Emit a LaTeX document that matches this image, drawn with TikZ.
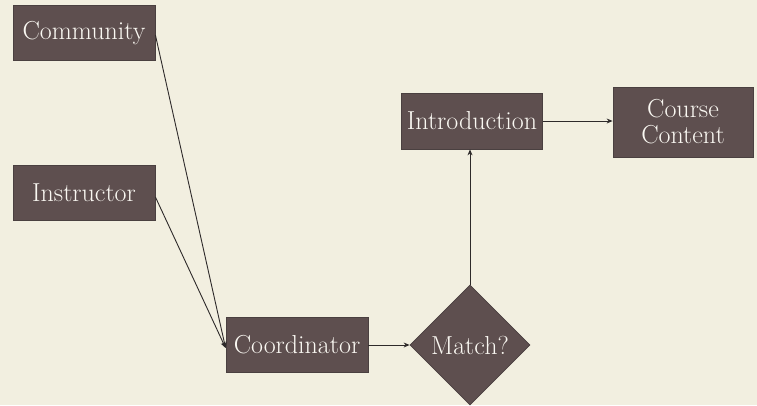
\documentclass[tikz,border=0pt]{standalone}
\usetikzlibrary{shapes.geometric,arrows.meta}
\definecolor{bgc}{HTML}{F2EFE0}
\definecolor{boxc}{HTML}{5E4F4F}
\definecolor{edgec}{HTML}{4A4040}
\definecolor{linec}{HTML}{2E2A2A}
\definecolor{txtc}{HTML}{FAF8F2}
\tikzset{
  box/.style={draw=edgec, line width=0.8pt, fill=boxc, text=txtc, font=\fontsize{26}{26}\selectfont, inner sep=0pt, align=center},
  dia/.style={diamond, draw=edgec, line width=0.8pt, fill=boxc, text=txtc, font=\fontsize{26}{26}\selectfont, inner sep=0pt, minimum width=120pt, minimum height=120pt, aspect=1},
  conn/.style={draw=linec, line width=0.9pt, -{Stealth[length=6pt,width=5pt]}}
}
\begin{document}
\begin{tikzpicture}[x=1pt,y=-1pt]
\fill[bgc] (0,0) rectangle (757,405);
\useasboundingbox (0,0) rectangle (757,405);
\node[box, minimum width=142pt, minimum height=55pt] (comm) at (84,33) {Community};
\node[box, minimum width=142pt, minimum height=55pt] (instr) at (84,193) {Instructor};
\node[box, minimum width=142pt, minimum height=55pt] (coord) at (297,345) {Coordinator};
\node[dia] (match) at (470,345) {Match?};
\node[box, minimum width=141pt, minimum height=56pt] (intro) at (472,121) {Introduction};
\node[box, minimum width=140pt, minimum height=70pt] (course) at (683,122) {Course\\Content};
\draw[conn] ([yshift=-2pt]comm.east) -- ([yshift=-3pt]coord.west);
\draw[conn] ([yshift=-4pt]instr.east) -- ([yshift=-3pt]coord.west);
\draw[conn] (coord.east) -- (match.west);
\draw[conn] (match.north) -- (match.north |- intro.south);
\draw[conn] (intro.east) -- (intro.east -| course.west);
\end{tikzpicture}
\end{document}
